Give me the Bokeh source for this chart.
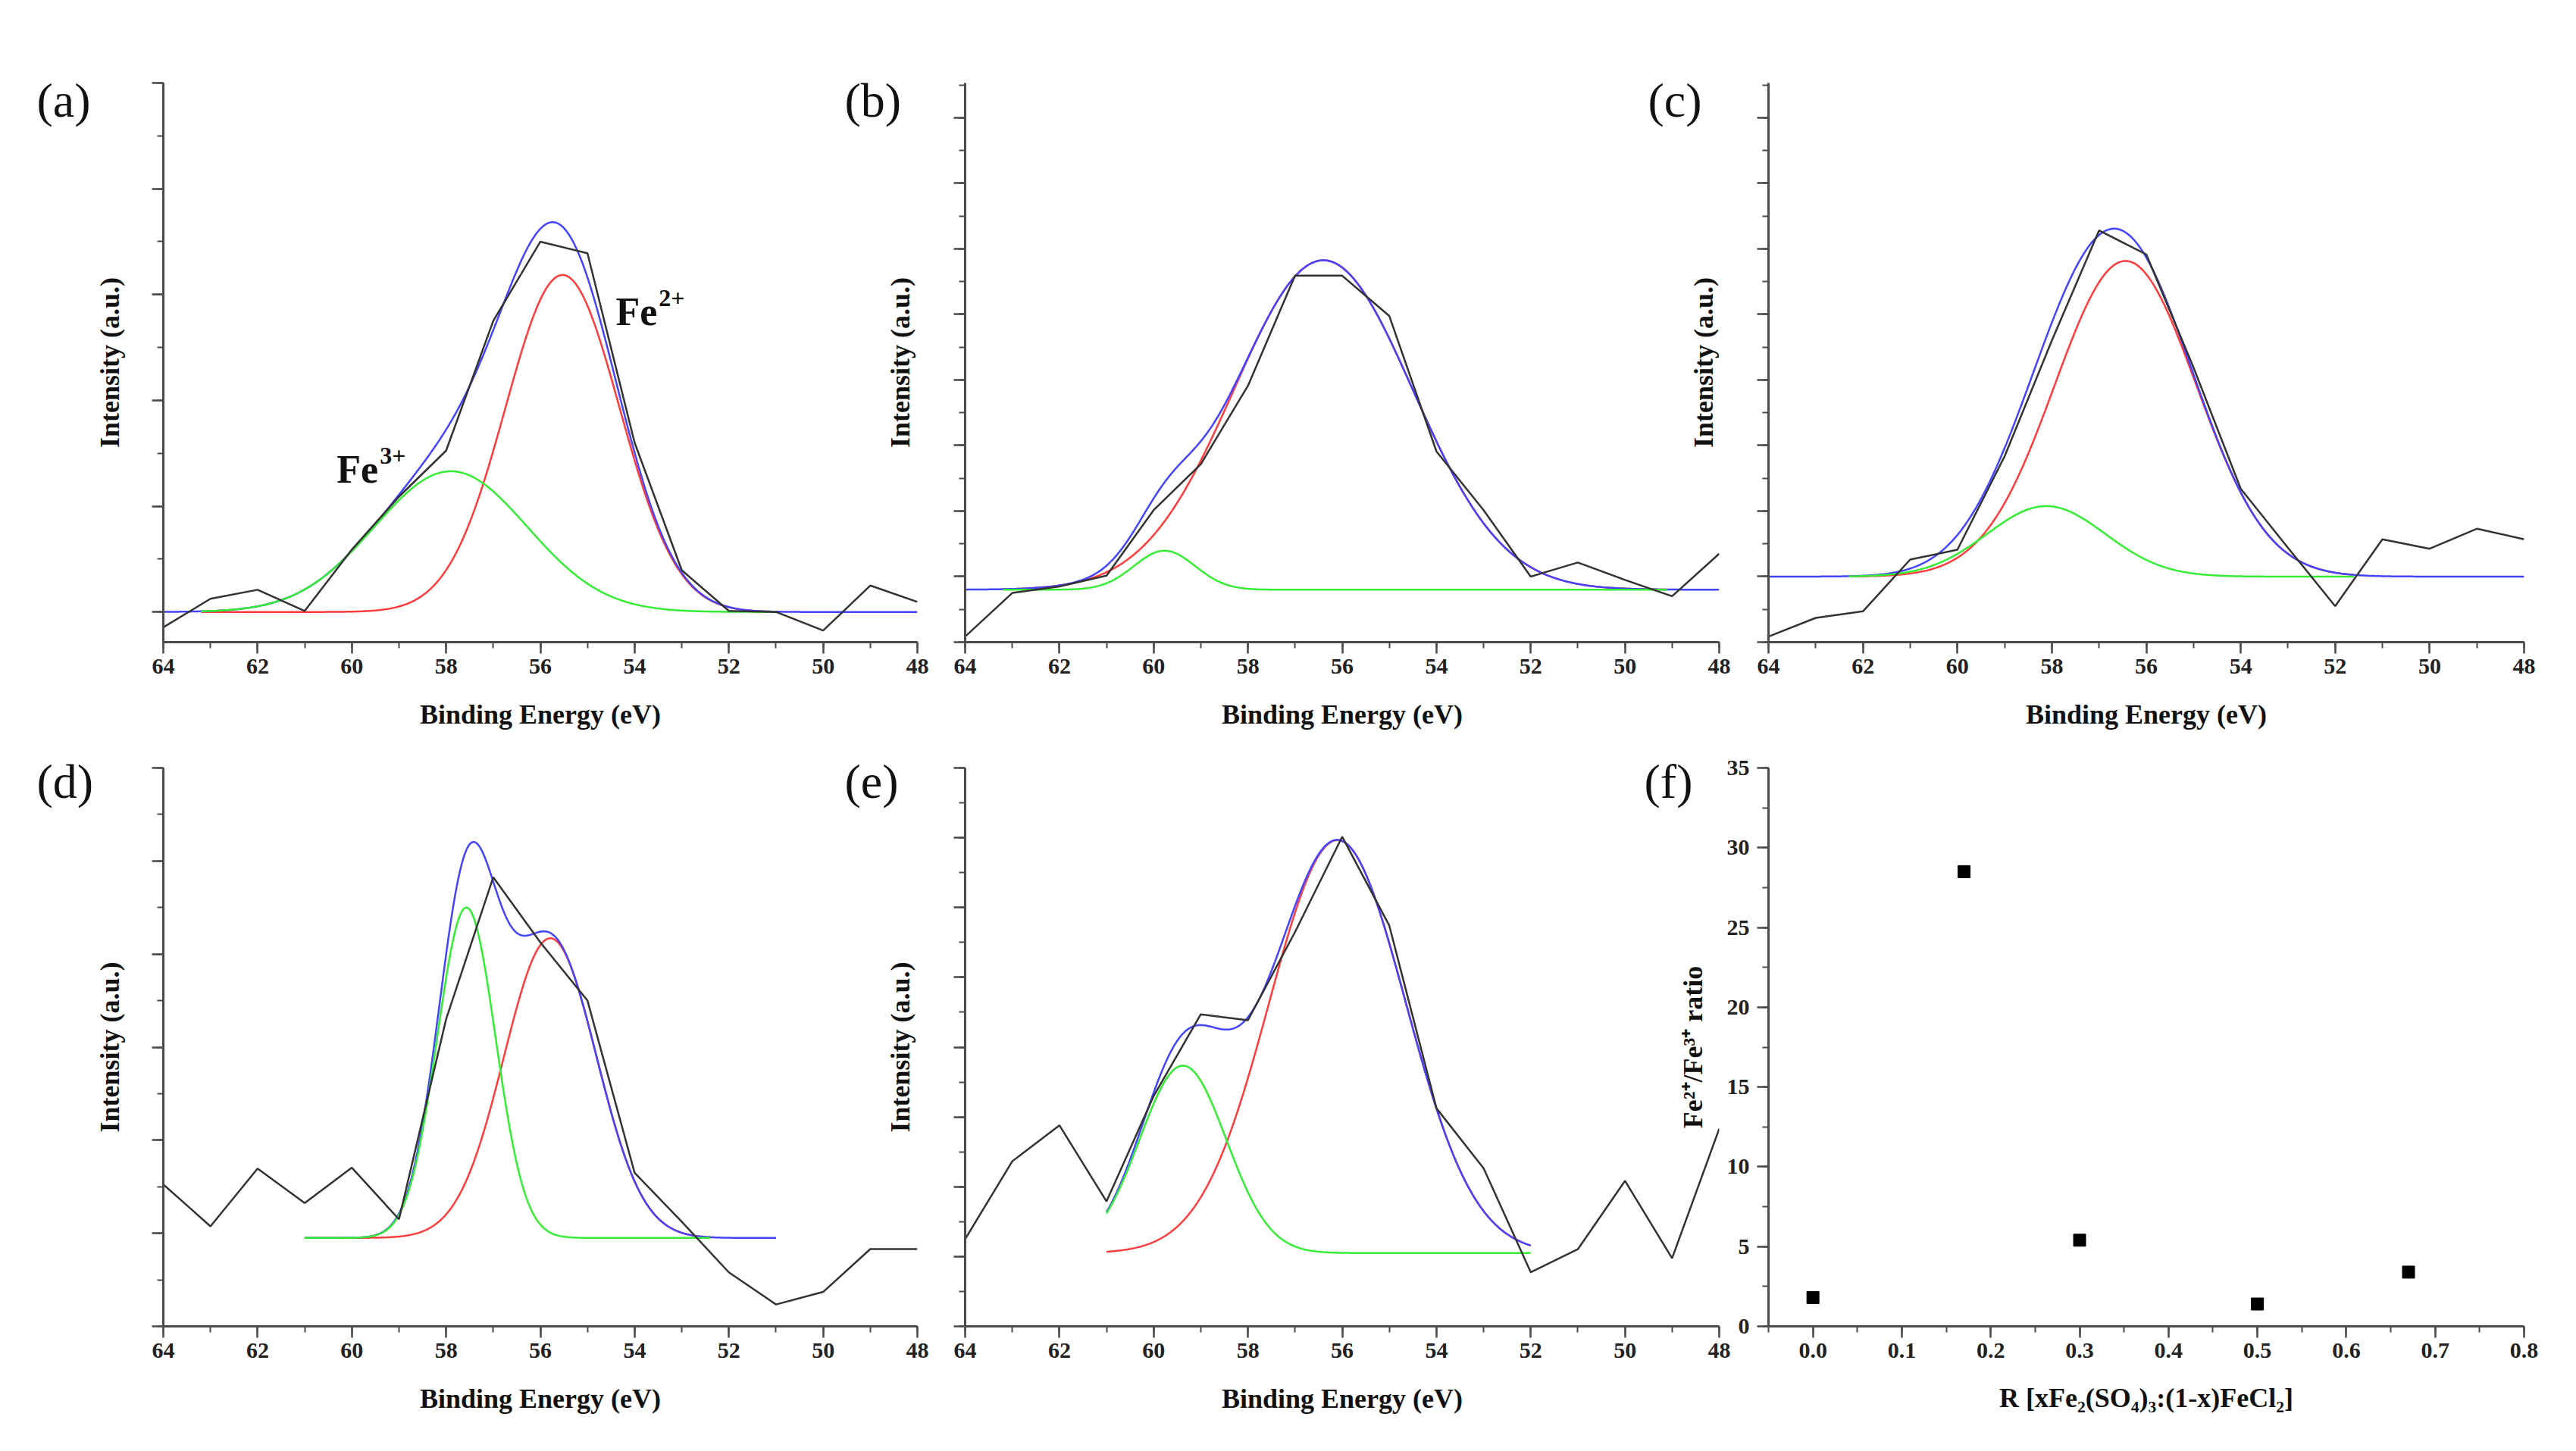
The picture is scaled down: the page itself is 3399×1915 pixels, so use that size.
import numpy as np
from bokeh.plotting import figure
from bokeh.models import (Range1d, SingleIntervalTicker, CustomJSTickFormatter,
                          PrintfTickFormatter, Label, Title)
from bokeh.layouts import row, column
from bokeh.embed import file_html
from bokeh.resources import INLINE

# ---------------- data ----------------
energy = [64, 63, 62, 61, 60, 59, 58, 57, 56, 55, 54, 53, 52, 51, 50, 49, 48]

raw_a = [-0.29, 0.25, 0.42, 0.02, 1.18, 2.18, 3.05, 5.5, 7.0, 6.78, 3.2, 0.79, 0.02, 0.0, -0.35, 0.5, 0.19]
raw_b = [0.17, 1.5, 1.7, 2.03, 4.03, 5.43, 7.82, 11.18, 11.18, 9.95, 5.82, 4.03, 2.0, 2.43, 1.9, 1.4, 2.7]
raw_c = [0.17, 0.74, 0.94, 2.52, 2.82, 5.67, 9.2, 12.56, 11.83, 8.38, 4.68, 2.88, 1.1, 3.14, 2.85, 3.46, 3.14]
raw_d = [3.05, 2.15, 3.39, 2.65, 3.41, 2.3, 6.6, 9.65, 8.25, 7.0, 3.3, 2.25, 1.16, 0.47, 0.74, 1.66, 1.66]
raw_e = [2.5, 4.73, 5.76, 3.58, 6.6, 8.94, 8.77, 11.3, 14.03, 11.48, 6.25, 4.53, 1.55, 2.21, 4.17, 1.95, 5.66]
raw_spectra = [raw_a, raw_b, raw_c, raw_d, raw_e]

# Gaussian fit components (centre eV, height, sigma eV) and fit baseline
fe2_center = [55.53, 56.4, 56.44, 55.79, 56.1]
fe2_height = [6.37, 10.05, 9.63, 6.44, 11.83]
fe2_sigma = [1.21, 1.9, 1.5, 0.98, 1.45]
fe3_center = [57.9, 59.77, 58.12, 57.57, 59.38]
fe3_height = [2.66, 1.19, 2.15, 7.1, 5.37]
fe3_sigma = [1.62, 0.65, 1.25, 0.62, 0.92]
fit_baseline = [0.0, 1.6, 2.0, 1.9, 2.1]
envelope_span = [(64, 48), (64, 48), (64, 48), (61, 51), (61, 52)]
component_span = [(63.2, 51.0), (63.2, 49.1), (62.3, 51.6), (61, 52.4), (61, 52)]
y_limits = [(-0.57, 10.0), (0.0, 17.06), (0.0, 17.06), (0.0, 12.0), (0.0, 16.0)]
panel_letters = ["(a)", "(b)", "(c)", "(d)", "(e)", "(f)"]

# panel (f)
ratio_R = [0.0, 0.17, 0.30, 0.50, 0.67]
ratio_fe2_fe3 = [1.8, 28.5, 5.4, 1.4, 3.4]

# ---------------- styling ----------------
SERIF = "Liberation Serif"
AX = "#4a4a4a"
C_RAW = "#333333"
C_ENV = "#4444ff"
C_FE2 = "#ff3b3b"
C_FE3 = "#33ee33"
LW = 2.5

TB = {" ": 250, "(": 333, ")": 333, "F": 611, "e": 444, "+": 570}


def tw(s, size):
    return sum(TB.get(c, 500) for c in s) * size / 1000.0


def rich(p, x, y, parts):
    """Text made of runs (text, font px, rise px, gap px) placed inside the frame."""
    adv = 0.0
    for text, size, rise, gap in parts:
        p.add_layout(Label(x=x, y=y, x_offset=adv, y_offset=rise, text=text,
                           text_font=SERIF, text_font_style="bold",
                           text_font_size=f"{size}px", text_color="#111111",
                           text_align="left", text_baseline="alphabetic"))
        adv += tw(text, size) + gap


def style_axes(p, xs_std, ys_std):
    for ax in (p.xaxis[0], p.yaxis[0]):
        ax.axis_line_color = AX
        ax.axis_line_width = 3
        ax.major_tick_line_color = AX
        ax.major_tick_line_width = 2.5
        ax.minor_tick_line_color = AX
        ax.minor_tick_line_width = 2
        ax.major_tick_out = 15
        ax.major_tick_in = 0
        ax.minor_tick_out = 8
        ax.minor_tick_in = 0
        ax.major_label_text_font = SERIF
        ax.major_label_text_font_style = "bold"
        ax.major_label_text_font_size = "30px"
        ax.major_label_text_color = "#222222"
        ax.axis_label_text_font = SERIF
        ax.axis_label_text_font_style = "bold"
        ax.axis_label_text_font_size = "36px"
        ax.axis_label_text_color = "#111111"
    p.xaxis[0].major_label_standoff = 7
    p.xaxis[0].axis_label_standoff = xs_std
    p.yaxis[0].major_label_standoff = 0
    p.yaxis[0].axis_label_standoff = ys_std


def base_fig(width, height, xr, yr, bl, br, bt, bb, margin_left, letter, letter_offset, letter_standoff):
    p = figure(width=width, height=height, x_range=xr, y_range=yr,
               output_backend="svg", toolbar_location=None,
               min_border_left=bl, min_border_right=br, min_border_top=bt, min_border_bottom=bb,
               background_fill_color=None, border_fill_color=None, outline_line_color=None,
               margin=(0, 0, 0, margin_left))
    p.grid.visible = False
    p.add_layout(Title(text=letter, align="left", offset=letter_offset, standoff=letter_standoff,
                       text_font=SERIF, text_font_size="64px", text_font_style="normal",
                       text_color="#111111"), "above")
    return p


def gauss(x, c, h, s):
    return h * np.exp(-((x - c) ** 2) / (2.0 * s * s))


def spectrum(i, width, height, bl, br, bt, bb, margin_left, ys_std, l_off, l_std):
    y0, y1 = y_limits[i]
    p = base_fig(width, height, Range1d(64, 48), Range1d(y0, y1), bl, br, bt, bb, margin_left,
                 panel_letters[i], l_off, l_std)
    p.xaxis.ticker = SingleIntervalTicker(interval=2, num_minor_ticks=2)
    p.yaxis.ticker = SingleIntervalTicker(interval=2, num_minor_ticks=2)
    p.yaxis.formatter = CustomJSTickFormatter(code="return ''")
    p.xaxis.axis_label = "Binding Energy (eV)"
    p.yaxis.axis_label = "Intensity (a.u.)"
    style_axes(p, 31, ys_std)

    b = fit_baseline[i]
    ea, eb = envelope_span[i]
    xe = np.linspace(ea, eb, 500)
    env = b + gauss(xe, fe2_center[i], fe2_height[i], fe2_sigma[i]) + \
        gauss(xe, fe3_center[i], fe3_height[i], fe3_sigma[i])
    ca, cb = component_span[i]
    xc = np.linspace(ca, cb, 500)
    fe2 = b + gauss(xc, fe2_center[i], fe2_height[i], fe2_sigma[i])
    fe3 = b + gauss(xc, fe3_center[i], fe3_height[i], fe3_sigma[i])

    p.line(xc, fe2, line_color=C_FE2, line_width=LW)
    p.line(xe, env, line_color=C_ENV, line_width=LW)
    p.line(xc, fe3, line_color=C_FE3, line_width=LW)
    p.line(energy, raw_spectra[i], line_color=C_RAW, line_width=LW)
    return p


# ---------------- geometry ----------------
W1, W2, W3 = 1232, 1200, 1230
H1, H2 = 982, 917
OV = -140
S1, S2 = -116, -106

fa = spectrum(0, W1, H1, 215, 22, 109, 135, 0, 36, -167, S1)
fb = spectrum(1, W2, H1, 181, 24, 109, 135, OV, 51, -159, S1)
fc = spectrum(2, W3, H1, 181, 52, 109, 135, OV, 51, -159, S1)
fd = spectrum(3, W1, H2, 215, 22, 31, 149, 0, 36, -167, S2)
fe = spectrum(4, W2, H2, 181, 24, 31, 149, OV, 51, -159, S2)

# Fe2+ / Fe3+ annotations in (a)
rich(fa, 54.4, 5.68, [("Fe", 52, 0, 2), ("2+", 32, 18, 0)])
rich(fa, 60.32, 2.70, [("Fe", 52, 0, 2), ("3+", 32, 18, 0)])

# panel (f)
ff = base_fig(W3, H2, Range1d(-0.05, 0.8), Range1d(0, 35), 181, 52, 31, 149, OV,
              panel_letters[5], -164, S2)
ff.xaxis.ticker = SingleIntervalTicker(interval=0.1, num_minor_ticks=2)
ff.xaxis.formatter = PrintfTickFormatter(format="%.1f")
ff.yaxis.ticker = SingleIntervalTicker(interval=5, num_minor_ticks=2)
ff.xaxis.axis_label = "R [xFe\u2082(SO\u2084)\u2083:(1-x)FeCl\u2082]"
ff.yaxis.axis_label = "Fe\u00b2\u207a/Fe\u00b3\u207a ratio"
style_axes(ff, 30, 22)
ff.yaxis[0].major_label_standoff = 10
ff.scatter(ratio_R, ratio_fe2_fe3, marker="square", size=16, color="#000000")

layout = column(row(fa, fb, fc), row(fd, fe, ff))
open("out.html", "w").write(file_html(layout, INLINE))
